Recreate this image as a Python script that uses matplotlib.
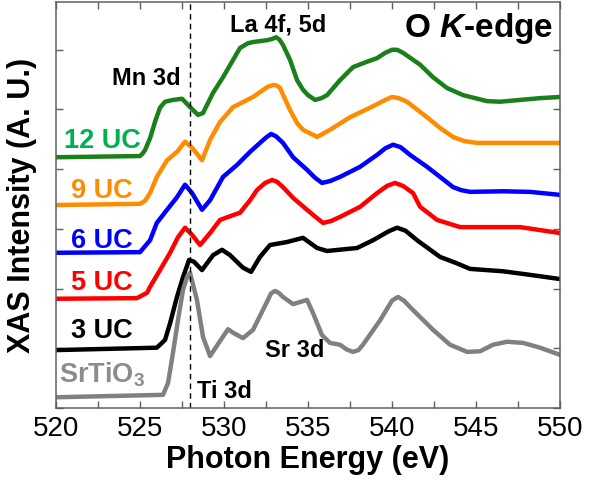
import matplotlib
matplotlib.use("Agg")
import matplotlib.pyplot as plt
from matplotlib.ticker import MultipleLocator

plt.rcParams['font.family'] = ['Liberation Sans', 'DejaVu Sans']
plt.rcParams['mathtext.fontset'] = 'custom'
plt.rcParams['mathtext.default'] = 'regular'
plt.rcParams['mathtext.it'] = 'Liberation Sans:style=italic:weight=bold'

# O K-edge XAS spectra, offset vertically (arb. units)
e_12uc = [520.0, 525.0, 525.15, 525.3, 525.6, 525.89, 526.19, 526.49, 526.96, 527.5, 527.98,
          528.45, 528.75, 529.35, 529.94, 530.54, 530.95, 531.43, 531.73, 532.56, 532.85,
          533.1, 533.3, 533.51, 533.93, 534.35, 534.7, 535.0, 535.42, 535.8, 536.13, 536.9,
          537.68, 538.51, 539.11, 539.6, 540.0, 540.3, 540.65, 541.67, 542.44, 543.27,
          544.23, 545.65, 546.43, 547.62, 548.81, 550.0]
i_12uc = [4.20, 4.22, 4.26, 4.32, 4.52, 4.79, 5.03, 5.13, 5.16, 5.18, 5.04,
          4.91, 4.94, 5.28, 5.54, 5.83, 6.03, 6.11, 6.13, 6.16, 6.18,
          6.21, 6.17, 6.08, 5.83, 5.49, 5.33, 5.24, 5.16, 5.19, 5.24, 5.49,
          5.71, 5.80, 5.86, 5.95, 6.00, 6.00, 5.95, 5.75, 5.54, 5.36,
          5.24, 5.14, 5.13, 5.16, 5.19, 5.21]

e_9uc = [520.0, 525.0, 525.3, 525.6, 526.0, 526.61, 527.2, 527.68, 528.1, 528.69,
         529.17, 529.76, 530.54, 531.73, 532.6, 532.92, 533.15, 533.33, 533.93, 534.35,
         534.7, 535.54, 536.31, 537.5, 538.69, 539.6, 540.0, 540.4, 540.89, 542.08,
         542.86, 543.63, 544.3, 545.06, 547.02, 550.0]
i_9uc = [3.40, 3.42, 3.47, 3.60, 3.87, 4.15, 4.29, 4.46, 4.36, 4.15,
         4.49, 4.79, 5.04, 5.21, 5.38, 5.41, 5.40, 5.36, 4.99, 4.77,
         4.66, 4.54, 4.66, 4.87, 5.03, 5.16, 5.21, 5.19, 5.13, 4.87,
         4.69, 4.54, 4.47, 4.44, 4.44, 4.44]

e_6uc = [520.0, 525.0, 525.6, 526.0, 526.61, 527.2, 527.68, 528.1, 528.69, 529.17,
         529.94, 530.77, 531.55, 532.14, 532.5, 532.8, 533.1, 533.51, 534.11, 534.94,
         535.4, 535.83, 536.3, 536.9, 538.1, 539.11, 539.6, 540.06, 540.5, 541.07,
         542.08, 542.86, 543.63, 544.1, 544.64, 546.61, 548.21, 550.0]
i_6uc = [2.60, 2.61, 2.81, 3.10, 3.32, 3.53, 3.74, 3.60, 3.32, 3.48,
         3.87, 4.07, 4.29, 4.44, 4.53, 4.59, 4.55, 4.44, 4.20, 3.99,
         3.86, 3.77, 3.80, 3.87, 4.04, 4.24, 4.35, 4.41, 4.37, 4.24,
         4.04, 3.87, 3.70, 3.65, 3.62, 3.63, 3.62, 3.57]

e_5uc = [520.0, 524.82, 525.42, 525.6, 526.19, 526.79, 527.26, 527.68, 528.1, 528.57,
         529.17, 529.76, 530.54, 530.95, 531.55, 531.96, 532.45, 532.86, 533.15, 533.51,
         534.11, 534.94, 535.45, 535.89, 536.35, 536.9, 538.1, 539.11, 539.7, 540.18,
         540.65, 541.25, 541.67, 542.68, 544.05, 545.65, 547.62, 550.0]
i_5uc = [1.83, 1.84, 1.93, 2.03, 2.31, 2.60, 2.86, 3.02, 2.90, 2.73,
         2.93, 3.15, 3.23, 3.27, 3.48, 3.65, 3.77, 3.82, 3.79, 3.70,
         3.52, 3.32, 3.20, 3.10, 3.13, 3.20, 3.37, 3.60, 3.72, 3.77,
         3.72, 3.60, 3.37, 3.15, 3.03, 3.03, 3.03, 2.93]

e_3uc = [520.0, 526.0, 526.49, 526.79, 527.2, 527.56, 527.92, 528.21, 528.69, 529.35,
         529.88, 530.36, 531.13, 531.61, 532.14, 532.74, 533.75, 534.7, 535.54, 536.13,
         537.92, 538.87, 539.8, 540.3, 540.8, 541.49, 542.86, 543.8, 544.64, 546.61,
         548.21, 550.0]
i_3uc = [0.97, 1.01, 1.14, 1.42, 1.86, 2.19, 2.48, 2.45, 2.31, 2.56,
         2.65, 2.56, 2.35, 2.28, 2.53, 2.73, 2.78, 2.85, 2.68, 2.63,
         2.68, 2.81, 2.96, 3.02, 2.97, 2.81, 2.53, 2.43, 2.33, 2.29,
         2.23, 2.16]

e_sto = [520.0, 526.37, 526.67, 526.96, 527.26, 527.56, 527.8, 527.98, 528.39, 528.75,
         529.17, 529.76, 530.24, 530.54, 531.13, 531.73, 532.56, 532.8, 533.04, 533.25,
         533.51, 534.11, 534.94, 535.3, 535.83, 536.31, 536.9, 537.3, 537.68, 538.0,
         538.27, 539.29, 540.0, 540.36, 540.7, 541.25, 542.44, 543.45, 544.46, 545.24,
         546.01, 546.85, 547.8, 548.81, 550.0]
i_sto = [0.18, 0.22, 0.42, 0.92, 1.47, 1.98, 2.19, 2.26, 1.81, 1.19,
         0.87, 1.12, 1.32, 1.26, 1.17, 1.31, 1.78, 1.92, 1.96, 1.93,
         1.86, 1.74, 1.81, 1.59, 1.22, 1.09, 1.06, 0.98, 0.94, 0.97,
         1.06, 1.47, 1.80, 1.86, 1.80, 1.64, 1.31, 1.06, 0.94, 0.95,
         1.06, 1.11, 1.09, 1.01, 0.89]

curves = [
    (e_12uc, i_12uc, '#1a801a', '12 UC', '#00b050', 4.36),
    (e_9uc, i_9uc, '#ff8c00', '9 UC', '#ff8c00', 3.52),
    (e_6uc, i_6uc, '#0000ff', '6 UC', '#0000ff', 2.68),
    (e_5uc, i_5uc, '#ff0000', '5 UC', '#ff0000', 1.98),
    (e_3uc, i_3uc, '#000000', '3 UC', '#000000', 1.17),
    (e_sto, i_sto, '#808080', 'SrTiO$_3$', '#8c8c8c', 0.42),
]

fig = plt.figure(figsize=(5.98, 4.80), dpi=100)
ax = fig.add_axes([0.0936, 0.15, 0.843, 0.8458])

for e, i, c, lab, lc, ly in curves:
    ax.plot(e, i, color=c, lw=3.2, solid_capstyle='round', solid_joinstyle='round')
    ax.text(522.75, ly, lab, color=lc, fontsize=19.5, fontweight='bold',
            ha='center', va='baseline')

ax.axvline(528.0, color='black', lw=1.0, ls=(0, (4, 3)))

ax.text(525.4, 5.41, 'Mn 3d', fontsize=17, fontweight='bold', ha='center', va='baseline')
ax.text(533.2, 6.30, 'La 4f, 5d', fontsize=17, fontweight='bold', ha='center', va='baseline')
ax.text(534.2, 0.85, 'Sr 3d', fontsize=17, fontweight='bold', ha='center', va='baseline')
ax.text(530.0, 0.17, 'Ti 3d', fontsize=17, fontweight='bold', ha='center', va='baseline')
ax.text(549.6, 6.21, 'O $\\mathit{K}$-edge', fontsize=24, fontweight='bold',
        ha='right', va='baseline')

ax.set_xlim(520, 550)
ax.set_ylim(0, 6.8)
ax.xaxis.set_major_locator(MultipleLocator(5))
ax.xaxis.set_minor_locator(MultipleLocator(2.5))
ax.yaxis.set_major_locator(MultipleLocator(1))
ax.set_yticklabels([])
ax.tick_params(axis='both', which='both', direction='in', top=True, right=True,
               length=5, width=1, color='#606060')
ax.tick_params(axis='x', labelsize=20, pad=6)
for s in ax.spines.values():
    s.set_color('#606060')
    s.set_linewidth(1.1)

ax.set_xlabel('Photon Energy (eV)', fontsize=22, fontweight='bold', labelpad=2)
ax.set_ylabel('XAS Intensity (A. U.)', fontsize=22, fontweight='bold', labelpad=10)

fig.savefig('out.png', dpi=100)
